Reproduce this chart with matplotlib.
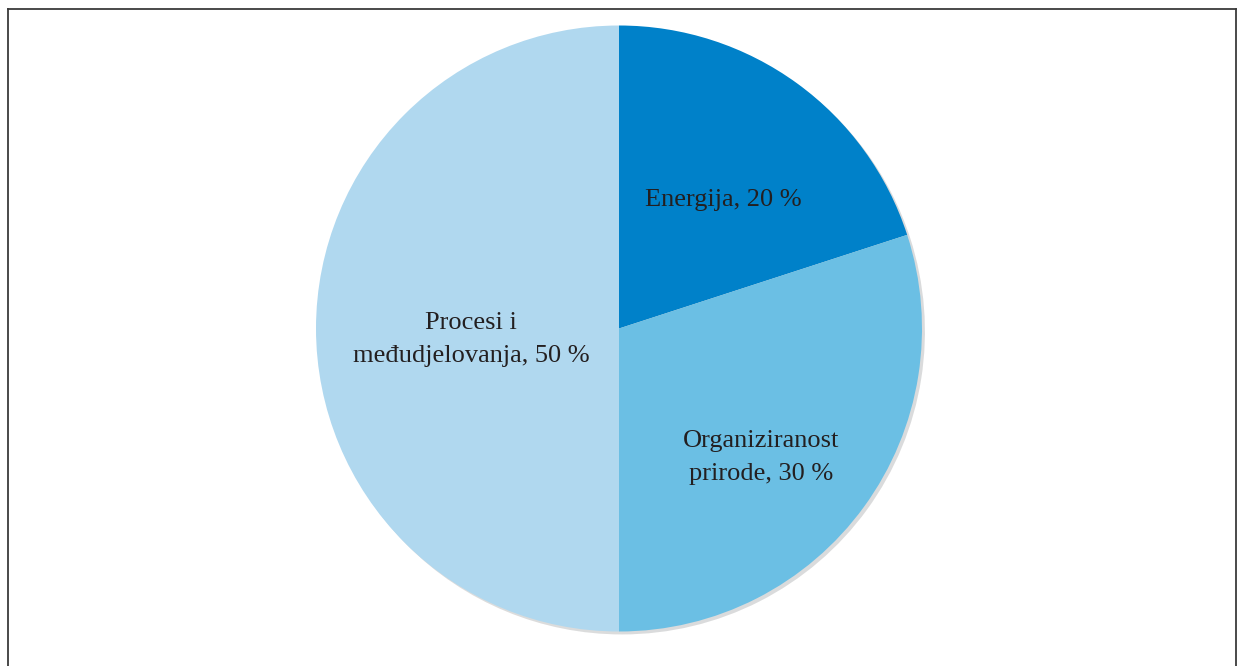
import numpy as np
import matplotlib.pyplot as plt
from matplotlib.lines import Line2D

# data
labels = ['Energija, 20 %', 'Organiziranost\nprirode, 30 %', 'Procesi i\nmeđudjelovanja, 50 %']
shares = [20, 30, 50]
colors = ['#0081C9', '#6BBFE4', '#B0D8EF']
label_r = [0.545, 0.632, 0.49]
label_dtheta = [-3.0, -6.2, 4.4]

fig = plt.figure(figsize=(12.44, 6.66), dpi=100)
W, H = 1244, 666
cx, cy, r = 619, 328.5, 303
ax = fig.add_axes([(cx - r) / W, (H - cy - r) / H, 2 * r / W, 2 * r / H])

wedges, _ = ax.pie(shares, colors=colors, startangle=90, counterclock=False,
                   radius=1, wedgeprops=dict(linewidth=0),
                   shadow={'ox': 0.007, 'oy': -0.007, 'shade': 0.9, 'alpha': 0.15})
ax.set_xlim(-1, 1)
ax.set_ylim(-1, 1)
ax.set_aspect('equal')
ax.axis('off')

# labels near wedge mid angle
for w, lab, lr, dt in zip(wedges, labels, label_r, label_dtheta):
    mid = np.deg2rad((w.theta1 + w.theta2) / 2 + dt)
    ax.text(lr * np.cos(mid), lr * np.sin(mid), lab, ha='center', va='center',
            fontsize=19, family='Liberation Serif', color='#231f20', linespacing=1.65)

# frame (open at bottom)
fx0, fx1, fy = 8 / W, 1236 / W, 1 - 8.5 / H
for xs, ys in [([fx0, fx0], [0, fy]), ([fx0, fx1], [fy, fy]), ([fx1, fx1], [fy, 0])]:
    fig.add_artist(Line2D(xs, ys, color='#3a3a3a', linewidth=1.3))

fig.savefig('out.png', dpi=100)
